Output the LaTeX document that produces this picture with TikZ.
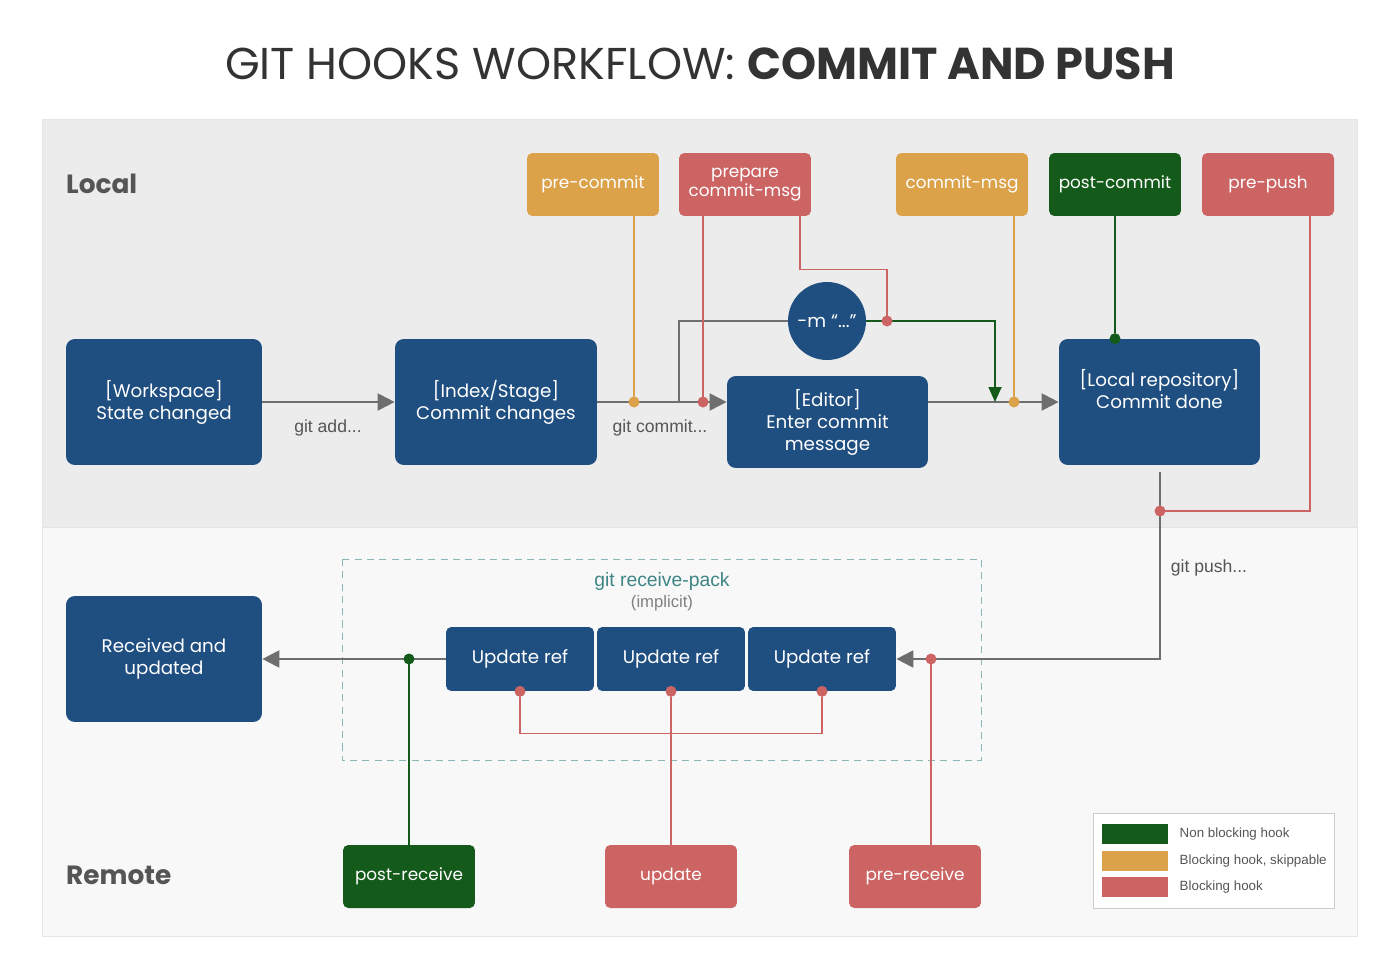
\documentclass[tikz,border=0pt]{standalone}
\usepackage{fontspec}
\setmainfont{Poppins}
\newfontfamily\labelfont{Liberation Sans}
\usetikzlibrary{arrows.meta,positioning,calc}
\definecolor{gitblue}{HTML}{1F4E80}
\definecolor{hookgreen}{HTML}{145A1A}
\definecolor{hookorange}{HTML}{DBA24A}
\definecolor{hookred}{HTML}{CC6464}
\definecolor{flowgray}{HTML}{6E6E6E}
\definecolor{localbg}{HTML}{ECECEC}
\definecolor{remotebg}{HTML}{F8F8F8}
\definecolor{packteal}{HTML}{3F8585}
\definecolor{titlegray}{HTML}{333333}
\definecolor{areagray}{HTML}{555555}
\tikzset{
  block/.style={rectangle, fill=gitblue, rounded corners=5pt, text=white, align=center,
    font=\fontsize{10.4}{12.5}\selectfont, minimum width=3.92cm, minimum height=2.52cm, inner sep=0pt},
  hook/.style={rectangle, rounded corners=3pt, text=white, align=center,
    font=\fontsize{9.6}{11}\selectfont, minimum width=2.64cm, minimum height=1.26cm, inner sep=0pt},
  flow/.style={draw=flowgray, line width=1.1pt},
  arr/.style={flow, -{Triangle[length=0.34cm, width=0.34cm]}},
  wire/.style={line width=0.75pt},
  dot/.style={circle, inner sep=0pt, minimum size=0.2cm},
  lbl/.style={font=\labelfont\fontsize{10}{11}\selectfont, text=areagray},
  area/.style={anchor=west, font=\bfseries\fontsize{15}{16}\selectfont, text=areagray},
  swatch/.style={rectangle, minimum width=1.32cm, minimum height=0.4cm, inner sep=0pt},
  legtext/.style={right=0.22cm, font=\labelfont\fontsize{7.6}{9}\selectfont, text=areagray, inner sep=0pt},
}
\begin{document}
\begin{tikzpicture}[x=0.02cm, y=-0.02cm]
\useasboundingbox[fill=white] (0,0) rectangle (1400,980);
% panels
\fill[localbg] (42,119) rectangle (1357,527);
\fill[remotebg] (42,527) rectangle (1357,936);
\draw[black!10] (42,119) rectangle (1357,936) (42,527) -- (1357,527);
\node[font=\fontsize{25.4}{27}\selectfont, text=titlegray] (title) at (700,64)
  {GIT HOOKS WORKFLOW: \textbf{COMMIT AND PUSH}};
\node[area] (local) at (60,184) {Local};
\node[area] (remote) at (60,875) {Remote};
% local flow
\node[block] (ws) at (164,402) {[Workspace]\\State changed};
\node[block, minimum width=4.04cm] (idx) at (496,402) {[Index/Stage]\\Commit changes};
\node[block, minimum width=4.02cm, minimum height=1.84cm] (ed) at (827.5,422) {[Editor]\\Enter commit\\message};
\node[block, minimum width=4.02cm] (repo) at (1159.5,402) {[Local repository]\\Commit done\\[2pt]};
\node[circle, fill=gitblue, text=white, minimum size=1.56cm, inner sep=0pt,
  font=\fontsize{10.4}{12.5}\selectfont] (mflag) at (827,321) {-m “...”};
% hooks
\node[hook, fill=hookorange] (pc) at (593,184.5) {pre-commit};
\node[hook, fill=hookred] (pcm) at (745,184.5) {prepare\\commit-msg};
\node[hook, fill=hookorange] (cm) at (962,184.5) {commit-msg};
\node[hook, fill=hookgreen] (poc) at (1115,184.5) {post-commit};
\node[hook, fill=hookred] (pp) at (1268,184.5) {pre-push};
\draw[arr] (ws) -- (idx);
\draw[arr] (idx.east) -- (idx.east -| ed.west);
\draw[arr] (ed.east |- repo.west) -- (repo.west);
\coordinate (br) at (679,402);
\coordinate (mj) at (995,402);
\draw[flow] (br) |- (mflag.west);
\draw[wire, line width=1pt, hookgreen, -{Triangle[length=0.3cm, width=0.26cm]}] (mflag.east) -| (mj);
\node[lbl] (gadd) at (328,428) {git add...};
\node[lbl] (gcommit) at (660,428) {git commit...};
% hook wires
\node[dot] (dpc) at (634,402) {};
\node[dot] (dpcm) at (703,402) {};
\node[dot] (dm) at (887,321) {};
\node[dot] (dcm) at (1014,402) {};
\node[dot] (dpoc) at (poc |- repo.north) {};
\draw[wire, hookorange] (pc.south -| dpc) -- (dpc);
\draw[wire, hookred] (pcm.south -| dpcm) -- (dpcm);
\draw[wire, hookred] ($(pcm.south)+(55,0)$) -- ++(0,53) -| (dm);
\draw[wire, hookorange] (cm.south -| dcm) -- (dcm);
\draw[wire, hookgreen] (poc) -- (dpoc);
% remote flow
\node[block] (recv) at (164,659) {Received and\\updated};
\draw[packteal!60, dash pattern=on 4pt off 3pt] (342,559) rectangle (981,760);
\node[font=\labelfont\fontsize{11}{12}\selectfont, text=packteal] (rpack) at (662,581) {git receive-pack};
\node[font=\labelfont\fontsize{9.5}{10}\selectfont, text=black!50] (impl) at (662,603) {(implicit)};
\node[block, minimum width=2.96cm, minimum height=1.28cm, rounded corners=3pt] (u1) at (520,659) {Update ref};
\node[block, minimum width=2.96cm, minimum height=1.28cm, rounded corners=3pt] (u2) at (671,659) {Update ref};
\node[block, minimum width=2.96cm, minimum height=1.28cm, rounded corners=3pt] (u3) at (822,659) {Update ref};
\node[hook, fill=hookgreen] (por) at (409,876.5) {post-receive};
\node[hook, fill=hookred] (upd) at (671,876.5) {update};
\node[hook, fill=hookred] (prr) at (915,876.5) {pre-receive};
\coordinate (pt) at (1160,472);
\draw[arr] (pt) |- (u3.east);
\draw[arr] (u1.west) -- (recv.east);
\node[lbl] (gpush) at (1209,568) {git push...};
\node[dot] (dpp) at (1160,511) {};
\node[dot] (dpr) at (931,659) {};
\node[dot] (dpor) at (409,659) {};
\node[dot] (du1) at (u1.south) {};
\node[dot] (du2) at (u2.south) {};
\node[dot] (du3) at (u3.south) {};
\draw[wire, hookred] ($(pp.south)+(42,0)$) |- (dpp);
\draw[wire, hookred] (dpr) -- (prr.north -| dpr);
\draw[wire, hookgreen] (dpor) -- (por);
\draw[wire, hookred] (du1) -- ++(0,42) -| (du3);
\draw[wire, hookred] (du2) -- (upd);
% dots on top
\foreach \d/\c in {dpc/hookorange, dpcm/hookred, dm/hookred, dcm/hookorange, dpoc/hookgreen,
  dpp/hookred, dpr/hookred, dpor/hookgreen, du1/hookred, du2/hookred, du3/hookred}
  \fill[\c] (\d) circle (5.5);
% legend
\node[draw=black!20, fill=white, minimum width=4.82cm, minimum height=1.9cm] (leg) at (1213.5,860.5) {};
\node[swatch, fill=hookgreen] (sw1) at (1135,834) {};
\node[swatch, fill=hookorange] (sw2) at (1135,861) {};
\node[swatch, fill=hookred] (sw3) at (1135,887) {};
\node[legtext] at (sw1.east) {Non blocking hook};
\node[legtext] at (sw2.east) {Blocking hook, skippable};
\node[legtext] at (sw3.east) {Blocking hook};
\end{tikzpicture}
\end{document}
